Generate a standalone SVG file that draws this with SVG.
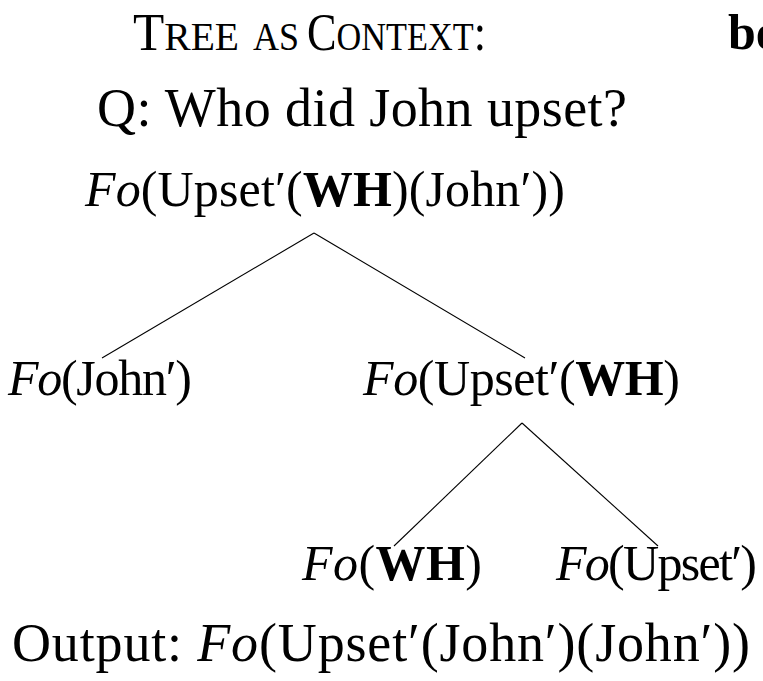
<svg xmlns="http://www.w3.org/2000/svg" width="763" height="681" viewBox="0 0 763 681">
  <style>
    .t { font-family: "Liberation Serif", "Times New Roman", serif; fill: #000; font-size: 50px; }
    .i { font-style: italic; }
    .b { font-weight: bold; }
    .big { font-size: 54px; }
    .cap { font-size: 53px; }
    .sc { font-size: 41px; }
    .edge { stroke: #000; stroke-width: 1.1; fill: none; }
  </style>
  <rect width="763" height="681" fill="#fff"/>

  <!-- heading in small capitals, one word per text -->
  <g id="heading">
    <text class="t cap" x="133" y="50" textLength="106" lengthAdjust="spacingAndGlyphs">T<tspan class="sc">REE</tspan></text>
    <text class="t sc" x="253" y="50" textLength="46" lengthAdjust="spacingAndGlyphs">AS</text>
    <text class="t cap" x="307" y="50" textLength="179" lengthAdjust="spacingAndGlyphs">C<tspan class="sc">ONTEXT</tspan>:</text>
    <text class="t b" x="728" y="49" font-size="54">bo</text>
  </g>

  <g id="question">
    <text class="t big" x="97" y="126" textLength="530">Q: Who did John upset?</text>
  </g>

  <!-- tree edges -->
  <g id="connectors">
    <line class="edge" x1="314" y1="233" x2="102" y2="358"/>
    <line class="edge" x1="314" y1="233" x2="525" y2="358"/>
    <line class="edge" x1="522" y1="423" x2="394" y2="546"/>
    <line class="edge" x1="522" y1="423" x2="658" y2="546"/>
  </g>

  <g id="node-root">
    <text class="t" x="85" y="206" textLength="480"><tspan class="i">Fo</tspan>(Upset′(<tspan class="b">WH</tspan>)(John′))</text>
  </g>
  <g id="node-john">
    <text class="t" x="8" y="395" textLength="184"><tspan class="i">Fo</tspan>(John′)</text>
  </g>
  <g id="node-upset-wh">
    <text class="t" x="363" y="395" textLength="317"><tspan class="i">Fo</tspan>(Upset′(<tspan class="b">WH</tspan>)</text>
  </g>
  <g id="node-wh">
    <text class="t" x="302" y="580" textLength="180"><tspan class="i">Fo</tspan>(<tspan class="b">WH</tspan>)</text>
  </g>
  <g id="node-upset">
    <text class="t" x="556" y="580" textLength="201"><tspan class="i">Fo</tspan>(Upset′)</text>
  </g>

  <g id="output">
    <text class="t big" x="12" y="661" textLength="738">Output: <tspan class="i">Fo</tspan>(Upset′(John′)(John′))</text>
  </g>
</svg>
